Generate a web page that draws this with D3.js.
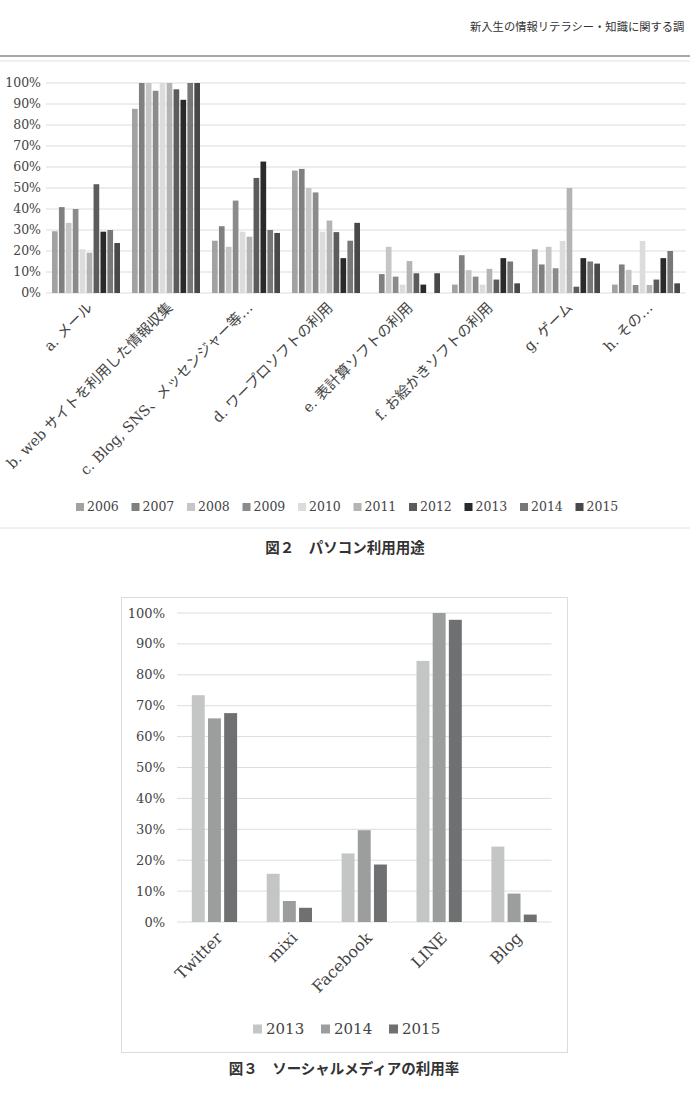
<!DOCTYPE html>
<html>
<head>
<meta charset="utf-8">
<script src="https://d3js.org/d3.v7.min.js"></script>
<style>
  body { margin: 0; background: #fff; }
  svg { display: block; }
  .serif { font-family: "DejaVu Serif", "Noto Sans CJK JP", serif; }
  .cap { font-family: "Noto Sans CJK JP", sans-serif; font-weight: bold; }
</style>
</head>
<body>
<div id="page"></div>
<script>
// ---- figure 2 data (PC usage, % per year) ----
var years1 = ["2006", "2007", "2008", "2009", "2010", "2011", "2012", "2013", "2014", "2015"];
var cats1 = ["a. メール", "b. web サイトを利用した情報収集", "c. Blog, SNS、メッセンジャー等…",
  "d. ワープロソフトの利用", "e. 表計算ソフトの利用", "f. お絵かきソフトの利用", "g. ゲーム", "h. その…"];
var vMail    = [29.4, 40.9, 33.4, 40, 20.8, 19.2, 51.8, 29.2, 30, 23.8];
var vWeb     = [87.7, 100, 100, 96.3, 100, 100, 97, 92, 100, 100];
var vBlogSns = [24.9, 31.8, 22, 44, 29.2, 26.8, 54.8, 62.6, 30, 28.6];
var vWord    = [58.3, 59.1, 50, 47.9, 29.2, 34.5, 29, 16.6, 24.9, 33.4];
var vExcel   = [0, 9, 22, 7.8, 4, 15.2, 9.4, 4, 0, 9.4];
var vPaint   = [4, 18, 10.9, 7.8, 4, 11.5, 6.4, 16.6, 15, 4.6];
var vGame    = [20.8, 13.6, 22, 11.8, 24.8, 50, 3, 16.6, 15, 14];
var vOther   = [4, 13.6, 11, 3.8, 24.8, 3.8, 6.4, 16.6, 20, 4.6];
var ticks1 = [0, 10, 20, 30, 40, 50, 60, 70, 80, 90, 100];

// ---- figure 3 data (social media, %) ----
var cats2 = ["Twitter", "mixi", "Facebook", "LINE", "Blog"];
var years2 = ["2013", "2014", "2015"];
var s2013 = [73.4, 15.6, 22.2, 84.5, 24.4];
var s2014 = [65.9, 6.8, 29.7, 100, 9.2];
var s2015 = [67.6, 4.6, 18.6, 97.8, 2.4];

var colors1 = ["#a2a2a2", "#808080", "#c6c6c6", "#8b8b8b", "#dcdcdc", "#b4b4b4", "#5c5c5c", "#2a2a2c", "#777777", "#48484a"];
var colors2 = ["#c4c6c6", "#9c9e9e", "#6f7071"];

var W = 690, H = 1119;
var svg = d3.select("#page").append("svg").attr("width", W).attr("height", H);

// header
svg.append("text").attr("class", "serif")
  .attr("x", 470).attr("y", 31)
  .style("font-size", "11.3px").attr("fill", "#333")
  .text("新入生の情報リテラシー・知識に関する調");
svg.append("line").attr("x1", 0).attr("x2", W).attr("y1", 56).attr("y2", 56)
  .attr("stroke", "#8a8a8a").attr("stroke-width", 1.5);

// chart 1 frame
svg.append("rect").attr("x", -1).attr("y", 61).attr("width", W + 2).attr("height", 467)
  .attr("fill", "none").attr("stroke", "#e2e2e2");

// ---------- chart 1 ----------
var table1 = cats1.map(function(c, i) {
  var arr = [vMail, vWeb, vBlogSns, vWord, vExcel, vPaint, vGame, vOther][i];
  return { cat: c, vals: years1.map(function(y, j) { return { year: y, v: arr[j], k: j }; }) };
});

var x0 = d3.scaleBand().domain(cats1).range([46, 686]);
var x1 = d3.scaleBand().domain(years1).range([6, 74]).paddingInner(0.18);
var y1 = d3.scaleLinear().domain([0, 100]).range([293, 83]);

var g1 = svg.append("g");
g1.append("g").selectAll("line").data(ticks1).join("line")
  .attr("x1", 46).attr("x2", 686)
  .attr("y1", function(d) { return y1(d); }).attr("y2", function(d) { return y1(d); })
  .attr("stroke", "#dcdcdc").attr("stroke-width", 1);

g1.append("g").selectAll("text").data(ticks1).join("text")
  .attr("class", "serif")
  .attr("x", 41).attr("y", function(d) { return y1(d); }).attr("dy", "0.35em")
  .attr("text-anchor", "end").style("font-size", "12.5px").attr("fill", "#444")
  .text(function(d) { return d + "%"; });

var grp1 = g1.append("g").selectAll("g").data(table1).join("g")
  .attr("transform", function(d) { return "translate(" + x0(d.cat) + ",0)"; });
grp1.selectAll("rect").data(function(d) { return d.vals.filter(function(e) { return e.v > 0; }); }).join("rect")
  .attr("x", function(d) { return x1(d.year); })
  .attr("width", x1.bandwidth())
  .attr("y", function(d) { return y1(d.v); })
  .attr("height", function(d) { return y1(0) - y1(d.v); })
  .attr("fill", function(d) { return colors1[d.k]; });

g1.append("g").selectAll("text").data(cats1).join("text")
  .attr("class", "serif")
  .attr("transform", function(d) { return "translate(" + (x0(d) + x0.bandwidth() / 2 + 4) + ",305) rotate(-45)"; })
  .attr("text-anchor", "end").attr("dy", "0.35em")
  .style("font-size", "14.5px").attr("fill", "#444")
  .text(function(d) { return d; });

// legend 1
var leg1 = g1.append("g").selectAll("g").data(years1).join("g")
  .attr("transform", function(d, i) { return "translate(" + (76 + i * 55.5) + ",507)"; });
leg1.append("rect").attr("x", 0).attr("y", -4).attr("width", 8).attr("height", 8)
  .attr("fill", function(d, i) { return colors1[i]; });
leg1.append("text").attr("class", "serif").attr("x", 11).attr("dy", "0.35em")
  .style("font-size", "12.5px").attr("fill", "#444").text(function(d) { return d; });

svg.append("text").attr("class", "cap").attr("x", 345).attr("y", 553)
  .attr("text-anchor", "middle").style("font-size", "14.5px").attr("fill", "#333")
  .text("図２　パソコン利用用途");

// ---------- chart 2 ----------
svg.append("rect").attr("x", 121.5).attr("y", 597.5).attr("width", 446).attr("height", 455)
  .attr("fill", "none").attr("stroke", "#dcdcdc");

var table2 = cats2.map(function(c, i) {
  return { cat: c, vals: [s2013[i], s2014[i], s2015[i]].map(function(v, j) { return { year: years2[j], v: v, k: j }; }) };
});
var xb = d3.scaleBand().domain(cats2).range([177, 551.5]);
var xi = d3.scaleBand().domain(years2).range([14.8, 60.1]).paddingInner(0.2);
var y2 = d3.scaleLinear().domain([0, 100]).range([922, 613]);

var g2 = svg.append("g");
g2.append("g").selectAll("line").data(ticks1).join("line")
  .attr("x1", 177).attr("x2", 551.5)
  .attr("y1", function(d) { return y2(d); }).attr("y2", function(d) { return y2(d); })
  .attr("stroke", "#dddddd").attr("stroke-width", 1);
g2.append("g").selectAll("text").data(ticks1).join("text")
  .attr("class", "serif")
  .attr("x", 165).attr("y", function(d) { return y2(d); }).attr("dy", "0.35em")
  .attr("text-anchor", "end").style("font-size", "13px").attr("fill", "#444")
  .text(function(d) { return d + "%"; });

var grp2 = g2.append("g").selectAll("g").data(table2).join("g")
  .attr("transform", function(d) { return "translate(" + xb(d.cat) + ",0)"; });
grp2.selectAll("rect").data(function(d) { return d.vals; }).join("rect")
  .attr("x", function(d) { return xi(d.year); })
  .attr("width", xi.bandwidth())
  .attr("y", function(d) { return y2(d.v); })
  .attr("height", function(d) { return y2(0) - y2(d.v); })
  .attr("fill", function(d) { return colors2[d.k]; });

g2.append("g").selectAll("text").data(cats2).join("text")
  .attr("class", "serif")
  .attr("transform", function(d) { return "translate(" + (xb(d) + xb.bandwidth() / 2 + 5) + ",935) rotate(-45)"; })
  .attr("text-anchor", "end").attr("dy", "0.35em")
  .style("font-size", "16px").attr("fill", "#444")
  .text(function(d) { return d; });

var leg2 = g2.append("g").selectAll("g").data(years2).join("g")
  .attr("transform", function(d, i) { return "translate(" + (253 + i * 68) + ",1029)"; });
leg2.append("rect").attr("x", 0).attr("y", -4.5).attr("width", 9).attr("height", 9)
  .attr("fill", function(d, i) { return colors2[i]; });
leg2.append("text").attr("class", "serif").attr("x", 13).attr("dy", "0.35em")
  .style("font-size", "15px").attr("fill", "#444").text(function(d) { return d; });

svg.append("text").attr("class", "cap").attr("x", 344).attr("y", 1074)
  .attr("text-anchor", "middle").style("font-size", "14.5px").attr("fill", "#333")
  .text("図３　ソーシャルメディアの利用率");
</script>
</body>
</html>
